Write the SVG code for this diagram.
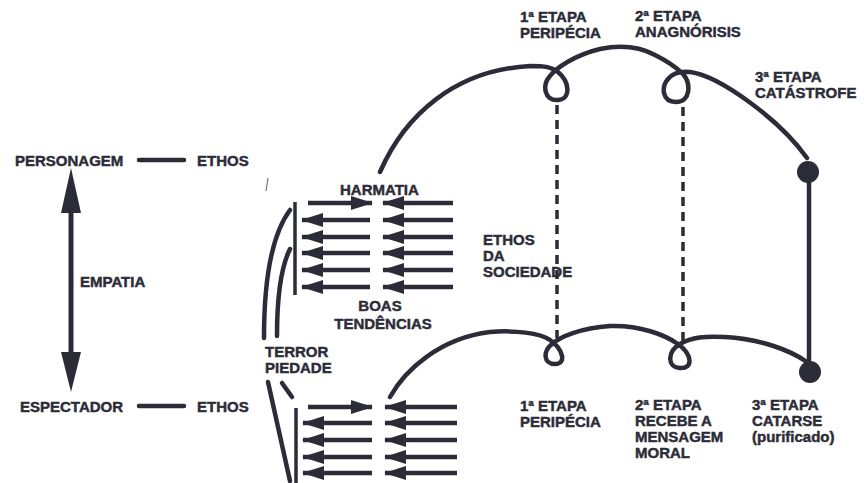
<svg xmlns="http://www.w3.org/2000/svg" width="865" height="483" viewBox="0 0 865 483">
  <style>
    text { font-family: "Liberation Sans", Arial, sans-serif; font-weight: bold; font-size: 15px; fill: #2c2c38; stroke: #2c2c38; stroke-width: 0.45; }
    .mid { text-anchor: middle; }
    .ln { fill: none; stroke: #2c2c38; stroke-width: 4.5; stroke-linecap: round; stroke-linejoin: round; }
    .bar { fill: none; stroke: #2c2c38; stroke-width: 3.5; }
    .dash { fill: none; stroke: #2c2c38; stroke-width: 3.5; stroke-dasharray: 9 6; }
    .arr { stroke: #2c2c38; stroke-width: 4.5; marker-end: url(#head); }
    .dot { fill: #2c2c38; }
  </style>
  <defs>
    <marker id="head" viewBox="0 0 22 14" markerWidth="22" markerHeight="14" refX="21" refY="7" orient="auto" markerUnits="userSpaceOnUse">
      <path d="M0,0 L22,7 L0,14 z" fill="#2c2c38"/>
    </marker>
  </defs>
  <rect width="865" height="483" fill="#ffffff"/>

  <!-- left column: character / spectator -->
  <g id="personagem">
    <text x="15" y="166">PERSONAGEM</text>
    <line class="ln" x1="139" y1="160" x2="184" y2="160"/>
    <text x="197" y="166">ETHOS</text>
  </g>
  <g id="espectador">
    <text x="20" y="412">ESPECTADOR</text>
    <line class="ln" x1="139" y1="406" x2="184" y2="406"/>
    <text x="197" y="412">ETHOS</text>
  </g>
  <g id="empatia">
    <line x1="71" y1="205" x2="71" y2="360" stroke="#2c2c38" stroke-width="5"/>
    <polygon points="71,168 81,213 61,213" fill="#2c2c38"/>
    <polygon points="71,392 81,352 61,352" fill="#2c2c38"/>
    <text x="80" y="287">EMPATIA</text>
  </g>
  <line x1="268" y1="178" x2="266" y2="191" stroke="#777" stroke-width="1.2"/>

  <!-- hamartia block -->
  <g id="harmatia">
    <text x="340" y="195">HARMATIA</text>
    <line class="bar" x1="295" y1="202" x2="295" y2="295"/>
    <line class="arr" x1="308" y1="203" x2="372" y2="203"/>
    <line class="arr" x1="453" y1="203" x2="383" y2="203"/>
    <line class="arr" x1="370" y1="220" x2="302" y2="220"/>
    <line class="arr" x1="453" y1="220" x2="383" y2="220"/>
    <line class="arr" x1="370" y1="237" x2="302" y2="237"/>
    <line class="arr" x1="453" y1="237" x2="383" y2="237"/>
    <line class="arr" x1="370" y1="253" x2="302" y2="253"/>
    <line class="arr" x1="453" y1="253" x2="383" y2="253"/>
    <line class="arr" x1="370" y1="270" x2="302" y2="270"/>
    <line class="arr" x1="453" y1="270" x2="383" y2="270"/>
    <line class="arr" x1="370" y1="287" x2="302" y2="287"/>
    <line class="arr" x1="453" y1="287" x2="383" y2="287"/>
    <text class="mid" x="380" y="311">BOAS</text>
    <text class="mid" x="383" y="329">TENDÊNCIAS</text>
  </g>

  <!-- terror and pity -->
  <g id="terror-piedade">
    <path class="ln" d="M290,210 Q264,245 264,338"/>
    <path class="ln" d="M290,249 Q277,275 277,336"/>
    <text x="265" y="357">TERROR</text>
    <text x="265" y="373">PIEDADE</text>
    <line class="ln" x1="268" y1="382" x2="290" y2="481"/>
    <line class="ln" x1="282" y1="383" x2="292" y2="397"/>
  </g>

  <!-- spectator block -->
  <g id="espectador-setas">
    <line class="bar" x1="296" y1="408" x2="296" y2="483"/>
    <line class="arr" x1="308" y1="407" x2="372" y2="407"/>
    <line class="arr" x1="457" y1="407" x2="385" y2="407"/>
    <line class="arr" x1="372" y1="423" x2="303" y2="423"/>
    <line class="arr" x1="457" y1="423" x2="385" y2="423"/>
    <line class="arr" x1="372" y1="440" x2="303" y2="440"/>
    <line class="arr" x1="457" y1="440" x2="385" y2="440"/>
    <line class="arr" x1="372" y1="457" x2="303" y2="457"/>
    <line class="arr" x1="457" y1="457" x2="385" y2="457"/>
    <line class="arr" x1="372" y1="473" x2="303" y2="473"/>
    <line class="arr" x1="457" y1="473" x2="385" y2="473"/>
  </g>

  <!-- connectors: the two plot curves and the links between them -->
  <g id="connectors">
    <path class="ln" d="M380,172 C405,115 455,70 530,66 C545,66 552,67 558,72 C569,81 572,99 558,100 C544,101 542,85 550,76 C556,68 575,55 600,49 C620,45 640,47 655,55 C665,60 676,67 683,74 C691,83 691,102 676,102 C662,102 661,87 668,79 C673,73 680,71 690,72 C720,76 780,120 807,158"/>
    <path class="ln" d="M390,397 C405,370 440,338 490,332 C515,330 540,333 550,340 C563,349 567,364 555,364 C543,364 543,351 552,344 C560,337 580,328 610,326 C640,325 665,335 678,344 C693,355 693,369 680,368 C666,367 668,351 680,344 C692,337 705,336 725,337 C760,339 790,350 807,362"/>
    <line class="dash" x1="557" y1="105" x2="557" y2="338"/>
    <line class="dash" x1="683" y1="107" x2="683" y2="343"/>
    <line class="ln" x1="809" y1="172" x2="809" y2="372"/>
  </g>

  <!-- stages of the character's plot -->
  <g id="etapa1-personagem">
    <text x="520" y="22">1ª ETAPA</text>
    <text x="520" y="38">PERIPÉCIA</text>
  </g>
  <g id="etapa2-personagem">
    <text x="635" y="21">2ª ETAPA</text>
    <text x="635" y="37">ANAGNÓRISIS</text>
  </g>
  <g id="etapa3-personagem">
    <circle class="dot" cx="808" cy="172" r="11"/>
    <text x="755" y="82">3ª ETAPA</text>
    <text x="755" y="98">CATÁSTROFE</text>
  </g>

  <g id="ethos-sociedade">
    <text x="483" y="245">ETHOS</text>
    <text x="483" y="261">DA</text>
    <text x="483" y="277">SOCIEDADE</text>
  </g>

  <!-- stages of the spectator's plot -->
  <g id="etapa1-espectador">
    <text x="520" y="411">1ª ETAPA</text>
    <text x="520" y="427">PERIPÉCIA</text>
  </g>
  <g id="etapa2-espectador">
    <text x="635" y="410">2ª ETAPA</text>
    <text x="635" y="426">RECEBE A</text>
    <text x="635" y="442">MENSAGEM</text>
    <text x="635" y="458">MORAL</text>
  </g>
  <g id="etapa3-espectador">
    <circle class="dot" cx="810" cy="372" r="11"/>
    <text x="752" y="410">3ª ETAPA</text>
    <text x="752" y="426">CATARSE</text>
    <text x="752" y="442">(purificado)</text>
  </g>
</svg>
